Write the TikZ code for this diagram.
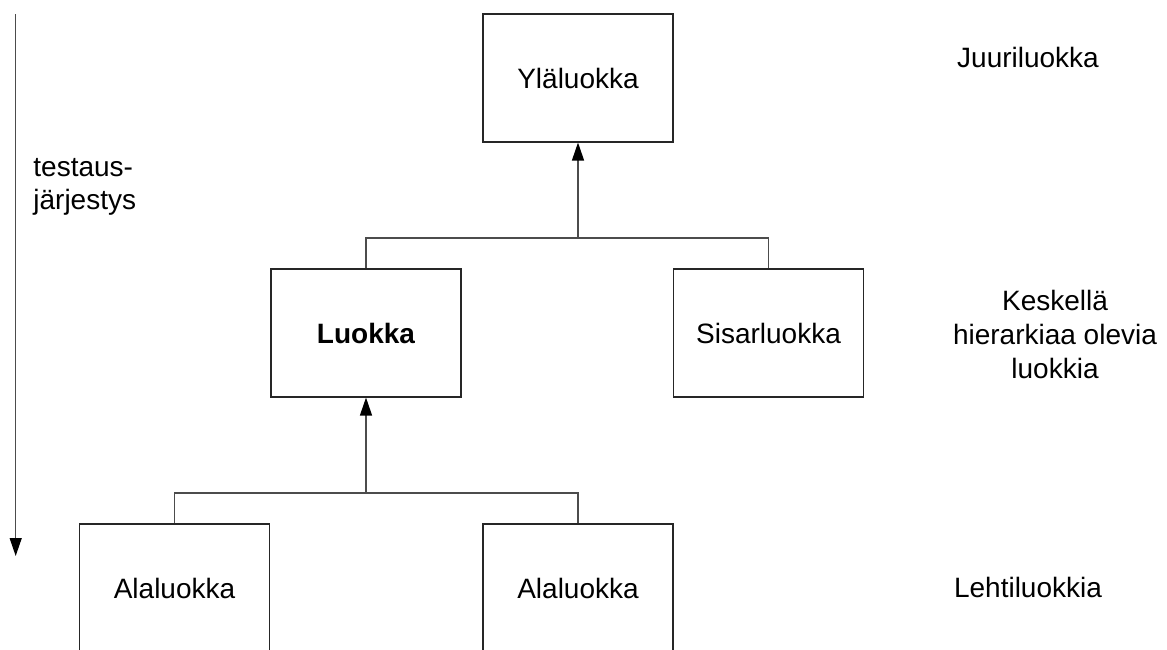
\documentclass[tikz,border=0pt]{standalone}
\usepackage{fontspec}
\setmainfont{Liberation Sans}
\usetikzlibrary{arrows.meta}
\tikzset{
  classbox/.style={draw=black!85, line width=0.55pt, fill=white,
    minimum width=95pt, minimum height=64pt, inner sep=0pt,
    font=\fontsize{14}{17}\selectfont},
  label/.style={inner sep=0pt, font=\fontsize{14}{17}\selectfont},
  link/.style={draw=black!70, line width=0.6pt},
  inherit/.style={link, -{Triangle[length=9pt,width=6pt,color=black,fill=black]}},
}
\begin{document}
\begin{tikzpicture}[x=0.5pt,y=-0.5pt]
  \useasboundingbox (0,0) rectangle (1167,649);
  \clip (0,0) rectangle (1167,649);

  % class boxes
  \node[classbox] (super) at (578,78) {Yläluokka};
  \node[classbox] (cls) at (366,333) {\bfseries Luokka};
  \node[classbox] (sister) at (768.5,333) {Sisarluokka};
  \node[classbox] (subA) at (174.5,588) {Alaluokka};
  \node[classbox] (subB) at (578,588) {Alaluokka};

  % inheritance buses
  \coordinate (bus1) at (578,238);
  \coordinate (bus2) at (366,493);
  \draw[link] (cls.north) |- (bus1) -| (sister.north);
  \draw[inherit] (bus1) -- (super.south);
  \draw[link] (subA.north) |- (bus2) -| (subB.north);
  \draw[inherit] (bus2) -- (cls.south);

  % testing order arrow
  \coordinate (orderTop) at (15.7,14);
  \coordinate (orderEnd) at (15.7,556);
  \draw[inherit] (orderTop) -- (orderEnd);
  \node[label, anchor=west, align=left] (order) at (33,187)
    {testaus-\\[-0.6pt]järjestys};

  % level labels
  \node[label] (root) at (1028,57) {Juuriluokka};
  \node[label, align=center] (middle) at (1055,334)
    {Keskellä\\hierarkiaa olevia\\luokkia};
  \node[label] (leaf) at (1028,587) {Lehtiluokkia};
\end{tikzpicture}
\end{document}
